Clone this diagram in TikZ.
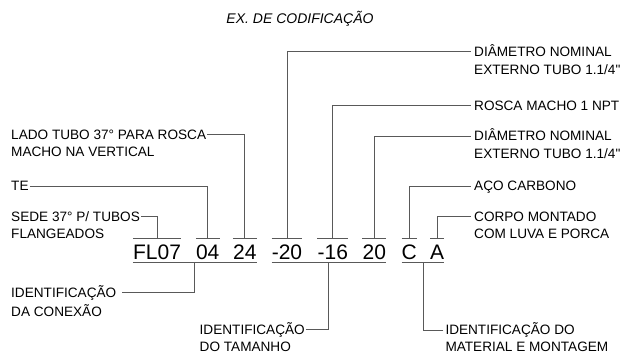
\documentclass[tikz,border=0pt]{standalone}
\usepackage{fontspec}
\setmainfont{Liberation Sans}[Ligatures=TeXOff]
\usetikzlibrary{calc}
\begin{document}
\begin{tikzpicture}[x=1pt,y=-1pt,
  code/.style={anchor=base,inner sep=0pt,text height=20pt,text depth=3pt,font=\fontsize{21}{21}\selectfont},
  lbl/.style={anchor=west,inner ysep=0pt,inner xsep=1pt,text height=9.7pt,text depth=0pt,font=\fontsize{13.6}{14}\selectfont},
  rlbl/.style={lbl,inner xsep=3.5pt},
  bar/.style={draw=black!65,line width=1pt},
  conn/.style={draw=black!65,line width=0.9pt}]
\useasboundingbox (0,0) rectangle (628,355);
% title
\node[inner sep=0pt,text height=10pt,text depth=0pt,font=\fontsize{14}{14}\selectfont\itshape] (title) at (300,19) {EX. DE CODIFICAÇÃO};
% code groups
\node[code] (g1) at (157,259) {FL07};
\node[code] (g2) at (207.7,259) {04};
\node[code] (g3) at (244.8,259) {24};
\node[code] (g4) at (287,259) {-20};
\node[code] (g5) at (332.8,259) {-16};
\node[code] (g6) at (374.3,259) {20};
\node[code] (g7) at (409.3,259) {C};
\node[code] (g8) at (437.2,259) {A};
\foreach \g in {g1,g2,g3,g4,g5,g6,g7,g8}{\draw[bar] (\g.north west) -- (\g.north east);}
\draw[bar] (g1.south west) -- (g3.south east);
\draw[bar] (g4.south west) -- (g6.south east);
\draw[bar] (g7.south west) -- (g8.south east);
\coordinate (u1) at ($(g1.south west)!0.5!(g3.south east)$);
\coordinate (u2) at ($(g4.south west)!0.5!(g6.south east)$);
\coordinate (u3) at ($(g7.south west)!0.5!(g8.south east)$);
% left labels
\node[lbl] (lado) at (10,134.5) {LADO TUBO 37° PARA ROSCA};
\node[lbl] (lado2) at (10,151.8) {MACHO NA VERTICAL};
\node[lbl] (te) at (10,186) {TE};
\node[lbl] (sede) at (10,216.8) {SEDE 37° P/ TUBOS};
\node[lbl] (sede2) at (10,234) {FLANGEADOS};
\node[lbl] (idc) at (10,292.7) {IDENTIFICAÇÃO};
\node[lbl] (idc2) at (10,311.7) {DA CONEXÃO};
\node[lbl] (idt) at (198.5,329.5) {IDENTIFICAÇÃO};
\node[lbl] (idt2) at (198.5,347) {DO TAMANHO};
% right labels
\node[rlbl] (d1) at (470.5,51.7) {DIÂMETRO NOMINAL};
\node[rlbl] (d1b) at (470.5,69.5) {EXTERNO TUBO 1.1/4"};
\node[rlbl] (rosca) at (470.5,105.7) {ROSCA MACHO 1 NPT};
\node[rlbl] (d2) at (470.5,136) {DIÂMETRO NOMINAL};
\node[rlbl] (d2b) at (470.5,153.5) {EXTERNO TUBO 1.1/4"};
\node[rlbl] (aco) at (470.5,186) {AÇO CARBONO};
\node[rlbl] (corpo) at (470.5,216.7) {CORPO MONTADO};
\node[rlbl] (corpo2) at (470.5,234) {COM LUVA E PORCA};
\node[lbl,inner xsep=2pt] (idm) at (443.3,330) {IDENTIFICAÇÃO DO};
\node[lbl,inner xsep=2pt] (idm2) at (443.3,347) {MATERIAL E MONTAGEM};
% connectors
\draw[conn] (lado.east) -| (g3.north);
\draw[conn] (te.east) -| (g2.north);
\draw[conn] (sede.east) -| (g1.north);
\draw[conn] (d1.west) -| (g4.north);
\draw[conn] (rosca.west) -| (g5.north);
\draw[conn] (d2.west) -| (g6.north);
\draw[conn] (aco.west) -| (g7.north);
\draw[conn] (corpo.west) -| (g8.north);
\draw[conn] ([xshift=5pt]idc.east) -| (u1);
\draw[conn] (idt.east) -| (u2);
\draw[conn] (idm.west) -| (u3);
\end{tikzpicture}
\end{document}
